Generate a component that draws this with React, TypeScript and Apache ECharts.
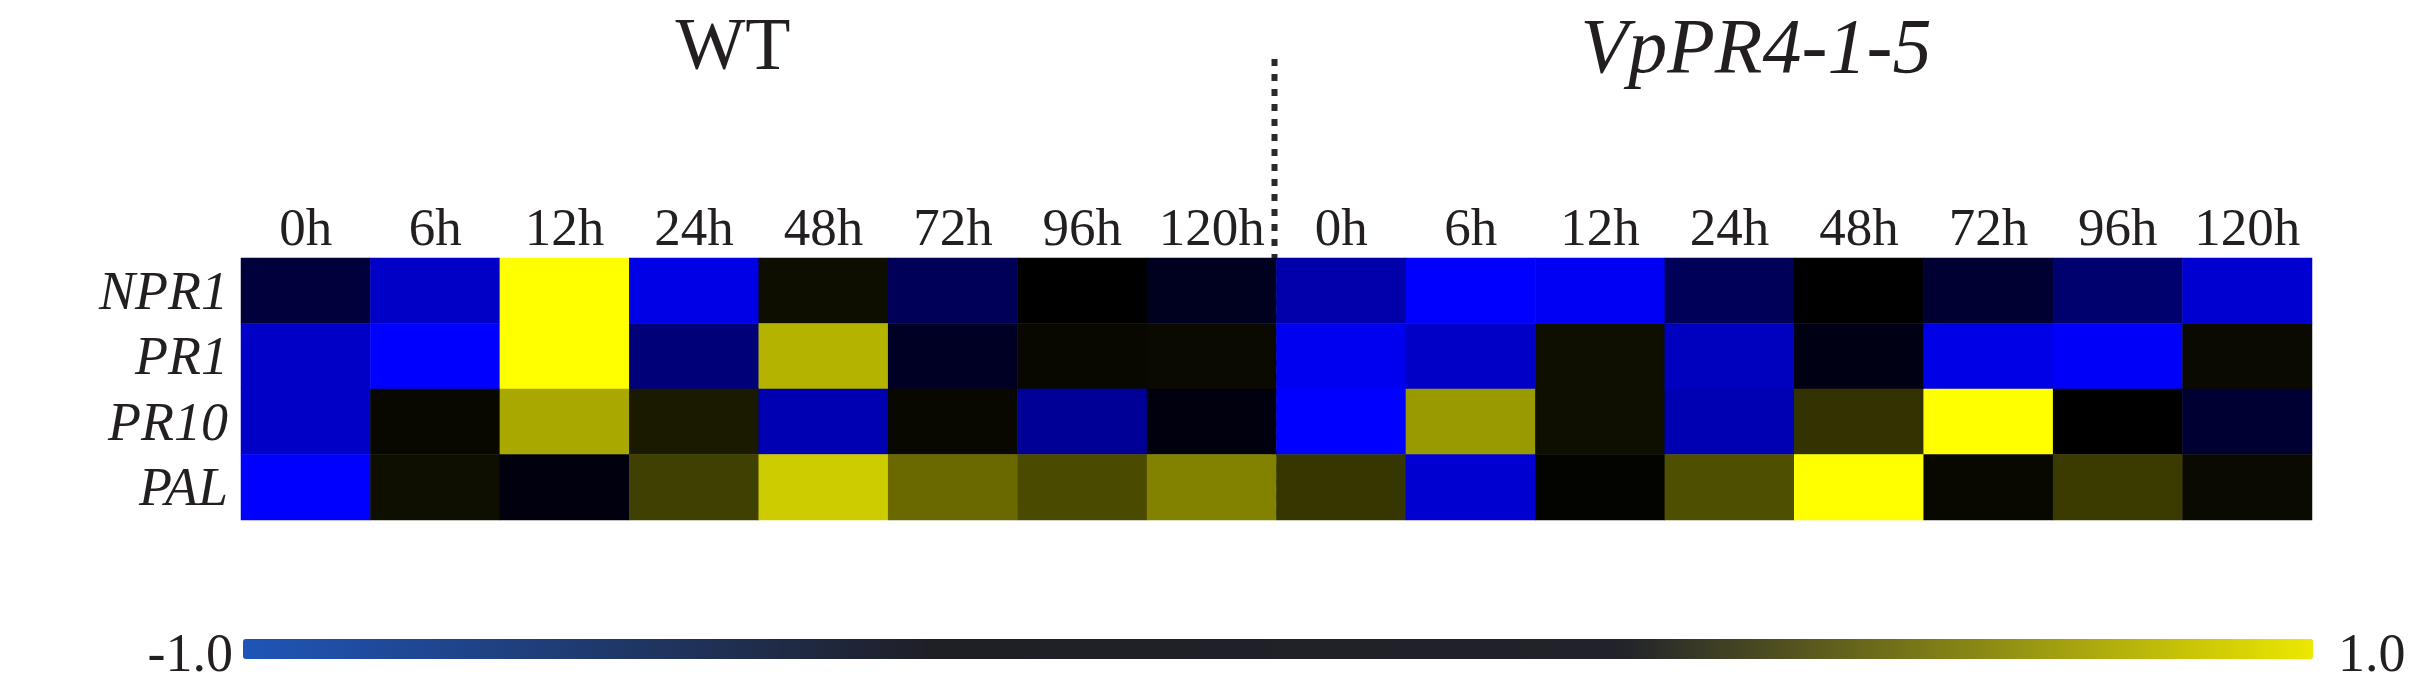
import React, { useEffect, useRef } from "react";
import * as echarts from "echarts";

const timepoints = ["0h", "6h", "12h", "24h", "48h", "72h", "96h", "120h"];
const lines = ["WT", "VpPR4-1-5"];
const genes = ["NPR1", "PR1", "PR10", "PAL"];

// values: 8 WT time points followed by 8 VpPR4-1-5 time points
const npr1 = [-0.24, -0.78, 1.0, -0.9, 0.05, -0.35, 0.0, -0.12, -0.67, -1.0, -0.96, -0.35, 0.0, -0.2, -0.43, -0.82];
const pr1 = [-0.78, -1.0, 1.0, -0.47, 0.7, -0.14, 0.03, 0.04, -0.94, -0.78, 0.06, -0.75, -0.08, -0.9, -0.98, 0.04];
const pr10 = [-0.78, 0.03, 0.66, 0.1, -0.7, 0.03, -0.59, -0.06, -1.0, 0.6, 0.06, -0.7, 0.2, 1.0, 0.0, -0.2];
const pal = [-1.0, 0.06, -0.06, 0.25, 0.8, 0.41, 0.29, 0.51, 0.21, -0.82, 0.01, 0.31, 1.0, 0.03, 0.23, 0.04];

const scaleMin = -1.0;
const scaleMax = 1.0;
const scaleLabels = ["-1.0", "1.0"];

const W = 2417;
const H = 686;
const gridLeft = 241;
const gridRight = 2312;
const gridTop = 258;
const gridBottom = 520;
const font = "'Liberation Serif', 'Times New Roman', serif";
const textColor = "#231f20";

export default function App() {
  const ref = useRef<HTMLDivElement>(null);

  useEffect(() => {
    if (!ref.current) return;
    const chart = echarts.init(ref.current, undefined, { renderer: "svg" });
    const rows = [npr1, pr1, pr10, pal];
    const data: number[][] = [];
    rows.forEach((r, gi) => r.forEach((v, ci) => data.push([ci, gi, v])));
    const xLabels = lines.flatMap(() => timepoints);
    const cellW = (gridRight - gridLeft) / xLabels.length;
    const splitX = gridLeft + timepoints.length * cellW - 2;

    chart.setOption({
      animation: false,
      backgroundColor: "#ffffff",
      grid: {
        left: gridLeft,
        top: gridTop,
        width: gridRight - gridLeft,
        height: gridBottom - gridTop,
        containLabel: false,
      },
      xAxis: {
        type: "category",
        position: "top",
        data: xLabels,
        axisLine: { show: false },
        axisTick: { show: false },
        splitLine: { show: false },
        axisLabel: {
          interval: 0,
          fontFamily: font,
          fontSize: 53,
          color: textColor,
          margin: 5,
        },
      },
      yAxis: {
        type: "category",
        inverse: true,
        data: genes,
        axisLine: { show: false },
        axisTick: { show: false },
        splitLine: { show: false },
        axisLabel: {
          interval: 0,
          fontFamily: font,
          fontSize: 54,
          fontStyle: "italic",
          color: textColor,
          margin: 13,
        },
      },
      visualMap: {
        type: "continuous",
        min: scaleMin,
        max: scaleMax,
        dimension: 2,
        orient: "horizontal",
        calculable: false,
        realtime: false,
        padding: 0,
        left: 243,
        top: 639,
        itemWidth: 20,
        itemHeight: 2070,
        text: null,
        showLabel: false,
        inRange: { color: ["#0000ff", "#000000", "#ffff00"] },
        controller: {
          inRange: { color: ["#1f55b8", "#1f1f26", "#22232a", "#ece800"] },
        },
      },
      series: [
        {
          type: "heatmap",
          data,
          itemStyle: { borderWidth: 0 },
          emphasis: { disabled: true },
        },
      ],
      graphic: [
        {
          type: "text",
          x: 733,
          y: 44,
          style: {
            text: lines[0],
            fontFamily: font,
            fontSize: 74,
            lineHeight: 74,
            fill: textColor,
            align: "center",
            verticalAlign: "middle",
          },
        },
        {
          type: "text",
          x: 1756,
          y: 45,
          style: {
            text: lines[1],
            fontFamily: font,
            fontSize: 78,
            lineHeight: 78,
            fontStyle: "italic",
            fill: textColor,
            align: "center",
            verticalAlign: "middle",
          },
        },
        {
          type: "line",
          shape: { x1: splitX, y1: 59, x2: splitX, y2: 523 },
          style: { stroke: "#2a2a2a", lineWidth: 6, lineDash: [7, 8] },
        },
        {
          type: "text",
          x: 233,
          y: 653,
          style: {
            text: scaleLabels[0],
            fontFamily: font,
            fontSize: 54,
            fill: textColor,
            align: "right",
            verticalAlign: "middle",
          },
        },
        {
          type: "text",
          x: 2338,
          y: 653,
          style: {
            text: scaleLabels[1],
            fontFamily: font,
            fontSize: 54,
            fill: textColor,
            align: "left",
            verticalAlign: "middle",
          },
        },
      ],
    });
    return () => chart.dispose();
  }, []);

  return (
    <div
      ref={ref}
      style={{ position: "fixed", left: 0, top: 0, width: W, height: H }}
    />
  );
}
